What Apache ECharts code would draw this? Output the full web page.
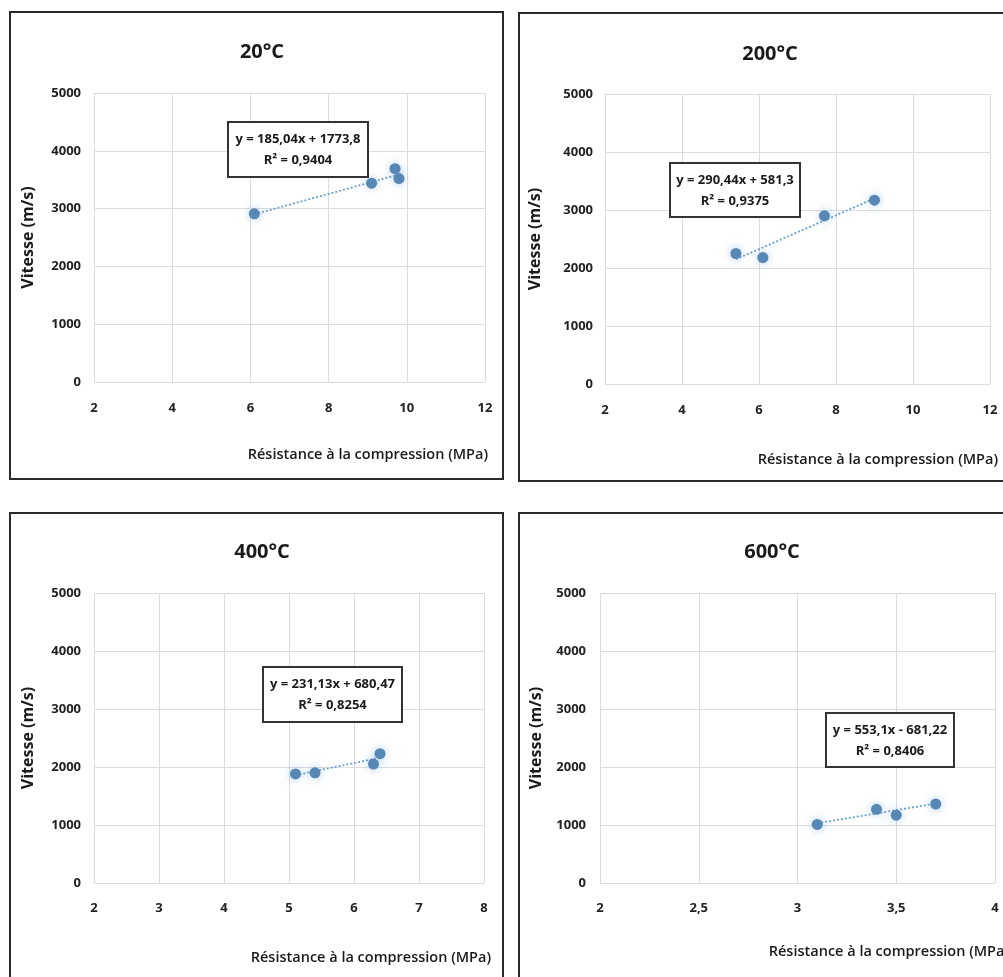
<!DOCTYPE html>
<html>
<head>
<meta charset="utf-8">
<script src="https://cdn.jsdelivr.net/npm/echarts@6/dist/echarts.min.js"></script>
<style>
  html, body { margin: 0; padding: 0; background: #fff; }
  #main { width: 1003px; height: 977px; }
</style>
</head>
<body>
<div id="main"></div>
<script>
// values
var titles = ['20°C', '200°C', '400°C', '600°C'];

var res20 = [6.1, 9.1, 9.7, 9.8];
var vit20 = [2910, 3440, 3690, 3520];
var res200 = [5.4, 6.1, 7.7, 9.0];
var vit200 = [2250, 2180, 2900, 3170];
var res400 = [5.1, 5.4, 6.3, 6.4];
var vit400 = [1880, 1900, 2050, 2230];
var res600 = [3.1, 3.4, 3.5, 3.7];
var vit600 = [1010, 1270, 1170, 1360];

// trendline end points (as drawn)
var trend20 = [[6.1, 2900], [9.8, 3590]];
var trend200 = [[5.4, 2150], [9.0, 3200]];
var trend400 = [[5.1, 1860], [6.4, 2160]];
var trend600 = [[3.1, 1030], [3.7, 1370]];

var equations = ['y = 185,04x + 1773,8', 'y = 290,44x + 581,3', 'y = 231,13x + 680,47', 'y = 553,1x - 681,22'];
var r2 = ['R² = 0,9404', 'R² = 0,9375', 'R² = 0,8254', 'R² = 0,8406'];

var xMin = [2, 2, 2, 2];
var xMax = [12, 12, 8, 4];
var xStep = [2, 2, 1, 0.5];

var xName = 'Résistance à la compression (MPa)';
var yName = 'Vitesse (m/s)';

var FONT = '"Open Sans", "Liberation Sans", sans-serif';
var DOT = '#5787b4';
var LINE = '#6a9fd0';

var dom = document.getElementById('main');
var chart = echarts.init(dom, null, {renderer: 'canvas'});

// layout of the four panels
var grids = [
    {left: 94, top: 93, width: 391, height: 289},
    {left: 605, top: 94, width: 385, height: 290},
    {left: 94, top: 593, width: 390, height: 290},
    {left: 600, top: 593, width: 395, height: 290}
];
var titlePos = [[257, 37], [765, 39], [257, 537], [767, 537]];
var yGap = [58, 62, 58, 56];
var labelGap = [[13, 20], [12, 20], [13, 19], [14, 19]];
var xNamePos = [[488, 455], [998, 460], [491, 958], [1009, 952]];
var boxes = [[228, 122, 140, 55], [670, 163, 130, 54], [263, 667, 139, 55], [826, 713, 128, 54]];
var frames = [[10, 12, 493, 467], [519, 13, 500, 468], [10, 513, 493, 480], [519, 513, 500, 480]];

var points = [[res20, vit20], [res200, vit200], [res400, vit400], [res600, vit600]];
var trends = [trend20, trend200, trend400, trend600];

function pairs(xs, ys) {
    var out = [];
    for (var i = 0; i < xs.length; i++) {
        out.push([xs[i], ys[i]]);
    }
    return out;
}

var option = {
    backgroundColor: '#fff',
    animation: false,
    title: [],
    grid: [],
    xAxis: [],
    yAxis: [],
    series: [],
    graphic: []
};

for (var p = 0; p < 4; p++) {
    option.title.push({
        text: titles[p],
        left: titlePos[p][0],
        top: titlePos[p][1],
        textAlign: 'center',
        textStyle: {fontFamily: FONT, fontSize: 20, fontWeight: 'bold', color: '#1a1a1a'}
    });
    option.grid.push(grids[p]);
    option.xAxis.push({
        type: 'value',
        gridIndex: p,
        min: xMin[p],
        max: xMax[p],
        interval: xStep[p],
        axisLine: {show: false},
        axisTick: {show: false},
        splitLine: {show: true, lineStyle: {color: '#dcdcdc', width: 1}},
        axisLabel: {
            margin: labelGap[p][1],
            fontFamily: FONT, fontSize: 13, fontWeight: 'bold', color: '#222',
            formatter: function (v) { return String(v).replace('.', ','); }
        }
    });
    option.yAxis.push({
        type: 'value',
        gridIndex: p,
        min: 0,
        max: 5000,
        interval: 1000,
        name: yName,
        nameLocation: 'middle',
        nameGap: yGap[p],
        nameTextStyle: {fontFamily: FONT, fontSize: 16, fontWeight: 'bold', color: '#1a1a1a'},
        axisLine: {show: false},
        axisTick: {show: false},
        splitLine: {show: true, lineStyle: {color: '#dcdcdc', width: 1}},
        axisLabel: {
            margin: labelGap[p][0],
            fontFamily: FONT, fontSize: 13, fontWeight: 'bold', color: '#222',
            formatter: function (v) { return String(v); }
        }
    });
    option.series.push({
        type: 'line',
        xAxisIndex: p,
        yAxisIndex: p,
        data: trends[p],
        symbol: 'none',
        silent: true,
        lineStyle: {color: LINE, width: 1.8, type: [2, 2]},
        z: 2
    });
    option.series.push({
        type: 'scatter',
        xAxisIndex: p,
        yAxisIndex: p,
        data: pairs(points[p][0], points[p][1]),
        symbolSize: 11,
        itemStyle: {color: DOT, opacity: 1, shadowBlur: 8, shadowColor: 'rgba(91,155,213,0.5)'},
        z: 3
    });

    // x axis name, right aligned under the labels
    option.graphic.push({
        type: 'text',
        x: xNamePos[p][0],
        y: xNamePos[p][1],
        style: {
            text: xName,
            align: 'right',
            verticalAlign: 'middle',
            font: '600 14.5px ' + FONT,
            fill: '#1a1a1a'
        }
    });

    // trendline equation box
    var b = boxes[p];
    option.graphic.push({
        type: 'rect',
        shape: {x: b[0], y: b[1], width: b[2], height: b[3]},
        style: {fill: '#fff', stroke: '#333', lineWidth: 2},
        z: 10
    });
    option.graphic.push({
        type: 'text',
        x: b[0] + b[2] / 2,
        y: b[1] + 17,
        style: {text: equations[p], align: 'center', verticalAlign: 'middle', font: 'bold 13px ' + FONT, fill: '#1a1a1a'},
        z: 11
    });
    option.graphic.push({
        type: 'text',
        x: b[0] + b[2] / 2,
        y: b[1] + 38,
        style: {text: r2[p], align: 'center', verticalAlign: 'middle', font: 'bold 13px ' + FONT, fill: '#1a1a1a'},
        z: 11
    });

    // panel frame
    var f = frames[p];
    option.graphic.push({
        type: 'rect',
        shape: {x: f[0], y: f[1], width: f[2], height: f[3]},
        style: {fill: null, stroke: '#2a2a2a', lineWidth: 2},
        z: 1
    });
}

chart.setOption(option);
</script>
</body>
</html>
